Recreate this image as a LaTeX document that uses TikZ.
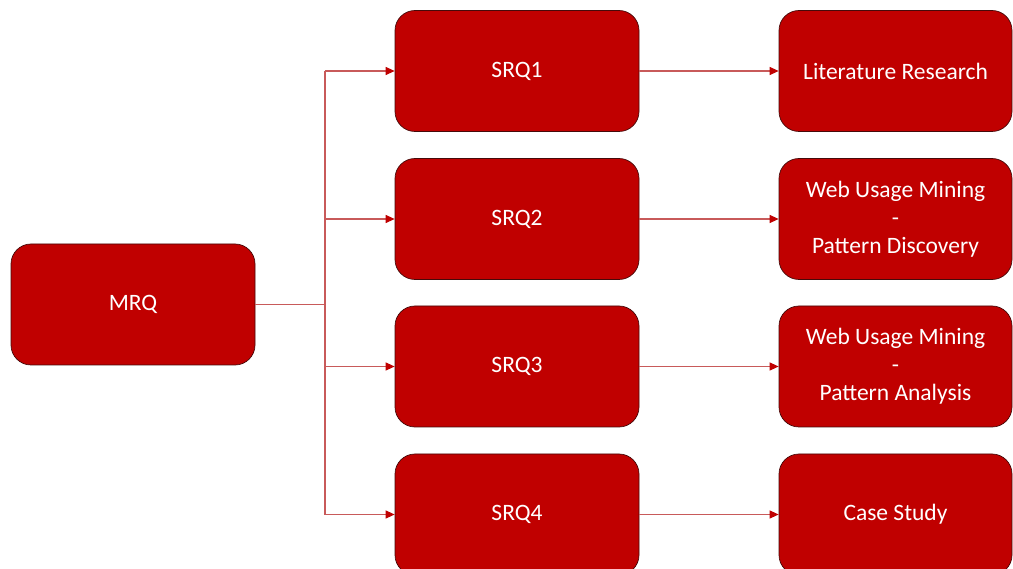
\documentclass[tikz,border=0pt]{standalone}
\usepackage{fontspec}
\setmainfont{Carlito}
\usetikzlibrary{arrows.meta}
\definecolor{boxred}{RGB}{192,0,0}
\definecolor{boxedge}{RGB}{70,10,10}
\definecolor{linkred}{RGB}{200,90,90}
\tikzset{
  rq/.style={rectangle, rounded corners=20pt, fill=boxred, draw=boxedge, line width=0.7pt,
    minimum width=244pt, minimum height=121pt, text=white, font=\fontsize{23.5}{28}\selectfont,
    align=center, inner sep=0pt},
  method/.style={rq, minimum width=233pt},
  link/.style={draw=linkred, line width=1.1pt,
    -{Triangle[length=9pt,width=8pt,color=boxred]}},
  trunk/.style={draw=linkred, line width=1.1pt}
}
\begin{document}
\begin{tikzpicture}[x=1pt,y=-1pt]
\useasboundingbox (0,0) rectangle (1013,569);
\clip (0,0) rectangle (1013,569);
\fill[white] (0,0) rectangle (1013,569);

% main research question
\node[rq] (mrq) at (133,304.5) {MRQ};

% sub research questions
\node[rq] (s1) at (517,71) {SRQ1};
\node[rq] (s2) at (517,219) {SRQ2};
\node[rq] (s3) at (517,366.5) {SRQ3};
\node[rq] (s4) at (517,514.5) {SRQ4};

% methods
\node[method] (m1) at (895.5,71) {Literature Research};
\node[method] (m2) at (895.5,219) {Web Usage Mining\\-\\Pattern Discovery};
\node[method] (m3) at (895.5,366.5) {Web Usage Mining\\-\\Pattern Analysis};
\node[method] (m4) at (895.5,514.5) {Case Study};

% branching connector
\coordinate (split) at (325,304.5);
\coordinate (top) at (325,71);
\coordinate (bot) at (325,514.5);
\draw[trunk] (mrq.east) -- (split);
\draw[trunk] (top) -- (bot);
\draw[link] (top) -- (s1.west);
\draw[link] (split |- s2.west) -- (s2.west);
\draw[link] (split |- s3.west) -- (s3.west);
\draw[link] (bot) -- (s4.west);

% question to method
\draw[link] (s1.east) -- (m1.west);
\draw[link] (s2.east) -- (m2.west);
\draw[link] (s3.east) -- (m3.west);
\draw[link] (s4.east) -- (m4.west);
\end{tikzpicture}
\end{document}
